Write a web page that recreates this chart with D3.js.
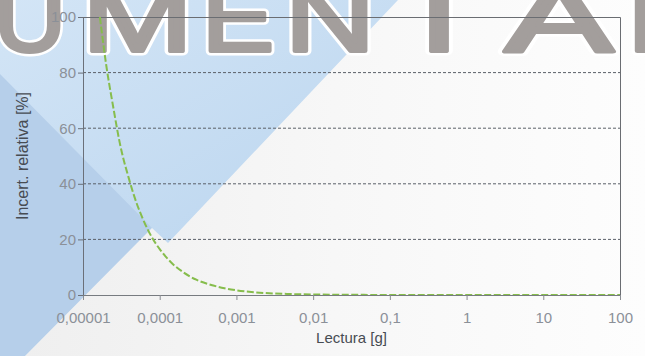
<!DOCTYPE html>
<html><head><meta charset="utf-8">
<script src="https://cdn.jsdelivr.net/npm/d3@7"></script>
<style>html,body{margin:0;padding:0;background:#fff;} svg{display:block;}</style>
</head><body><svg id="c" width="645" height="356"></svg>
<script>
// Data
const readings = [1.66e-5, 2e-5, 2.5e-5, 3e-5, 4e-5, 5e-5, 6e-5, 8e-5, 1e-4, 1.5e-4, 2e-4, 3e-4, 5e-4, 7e-4, 1e-3, 2e-3, 5e-3, 1e-2, 3e-2, 0.1, 1, 10, 100];
const uncertainty = [100, 83, 67, 55, 41.5, 33, 27.5, 20.5, 16.5, 11, 8.3, 5.5, 3.4, 2.4, 1.7, 0.85, 0.35, 0.18, 0.07, 0.03, 0.01, 0.01, 0.01];
const xTickValues = [1e-5, 1e-4, 1e-3, 1e-2, 1e-1, 1, 10, 100];
const xTickLabels = ["0,00001", "0,0001", "0,001", "0,01", "0,1", "1", "10", "100"];
const yTickValues = [0, 20, 40, 60, 80, 100];
const yTickLabels = ["0", "20", "40", "60", "80", "100"];
const xTitle = "Lectura [g]";
const yTitle = "Incert. relativa [%]";
const watermark = ["U", "M", "E", "N", "T", "A", "L"];

const W = 645, H = 356;
const M = {left: 83, right: 25, top: 17, bottom: 61};
const svg = d3.select("#c");
const defs = svg.append("defs");

// ---- background decoration ----
const gBlue = defs.append("linearGradient").attr("id", "gb").attr("x1", "0").attr("y1", "0").attr("x2", "1").attr("y2", "1");
gBlue.append("stop").attr("offset", "0").attr("stop-color", "#d3e5f6");
gBlue.append("stop").attr("offset", "0.6").attr("stop-color", "#bcd6ef");
const gWhite = defs.append("linearGradient").attr("id", "gw").attr("x1", "0").attr("y1", "0").attr("x2", "1").attr("y2", "0");
gWhite.append("stop").attr("offset", "0").attr("stop-color", "#efefef");
gWhite.append("stop").attr("offset", "0.5").attr("stop-color", "#f7f7f7");
gWhite.append("stop").attr("offset", "1").attr("stop-color", "#fdfdfd");

svg.append("rect").attr("width", W).attr("height", H).attr("fill", "url(#gb)");
svg.append("polygon").attr("points", "0,74 152,228 25,356 0,356").attr("fill", "#b6cfea");
svg.append("polygon").attr("points", "398,0 645,0 645,356 25,356 152,228 168,243").attr("fill", "url(#gw)");

// watermark letters
const wmBoxes = [[-8, 68], [80, 195], [200, 276], [283, 377], [392, 486], [503, 615], [625, 700]];
const wm = svg.append("g").attr("font-family", "Liberation Sans, Arial, sans-serif").attr("font-size", 96);
[["#ffffff", 9], ["#a39e9c", 4]].forEach(([col, sw]) => {
  watermark.forEach((ch, i) => {
    const [a, b] = wmBoxes[i];
    wm.append("text").attr("x", a + 2).attr("y", 51).attr("textLength", b - a - 4).attr("lengthAdjust", "spacingAndGlyphs")
      .attr("fill", col).attr("stroke", col).attr("stroke-width", sw).attr("stroke-linejoin", "round").text(ch);
  });
});

// ---- chart ----
const x = d3.scaleLog().domain([1e-5, 100]).range([M.left, W - M.right]);
const y = d3.scaleLinear().domain([0, 100]).range([H - M.bottom, M.top]);

// grid
svg.append("g").selectAll("line").data(yTickValues.filter(v => v > 0 && v < 100)).join("line")
  .attr("x1", x(1e-5)).attr("x2", x(100)).attr("y1", d => y(d)).attr("y2", d => y(d))
  .attr("stroke", "#5b6068").attr("stroke-width", 1).attr("stroke-dasharray", "3,2");

// frame top/right
svg.append("path").attr("d", `M${x(1e-5)},${y(100) + 0.5}H${x(100) + 0.5}V${y(0)}`)
  .attr("fill", "none").attr("stroke", "#6a6d72").attr("stroke-width", 1);

// curve
defs.append("clipPath").attr("id", "cp").append("rect")
  .attr("x", x(1e-5)).attr("y", y(100)).attr("width", x(100) - x(1e-5)).attr("height", y(0) - y(100) + 2);
const pts = readings.map((r, i) => [r, uncertainty[i]]);
svg.append("path").datum(pts).attr("clip-path", "url(#cp)")
  .attr("d", d3.line().x(d => x(d[0])).y(d => y(d[1])).curve(d3.curveMonotoneX))
  .attr("fill", "none").attr("stroke", "#86bd4c").attr("stroke-width", 2).attr("stroke-dasharray", "7,2.5");

const tickFont = "Liberation Sans, Arial, sans-serif";
// x axis
const xa = svg.append("g").attr("transform", `translate(0,${y(0)})`)
  .call(d3.axisBottom(x).tickValues(xTickValues).tickFormat((d, i) => xTickLabels[i]).tickSize(5).tickPadding(12).tickSizeOuter(0));
xa.select(".domain").attr("stroke", "#777b80");
xa.selectAll(".tick line").attr("stroke", "#8a8d92");
xa.selectAll("text").attr("fill", "#8b9098").attr("font-size", 15).attr("font-family", tickFont);

// y axis
const ya = svg.append("g").attr("transform", `translate(${x(1e-5)},0)`)
  .call(d3.axisLeft(y).tickValues(yTickValues).tickFormat((d, i) => yTickLabels[i]).tickSize(5).tickPadding(2).tickSizeOuter(0));
ya.select(".domain").attr("stroke", "#6b7079");
ya.selectAll(".tick line").attr("stroke", "#6b7079");
ya.selectAll("text").attr("fill", "#8b9098").attr("font-size", 15).attr("font-family", tickFont);

// titles
svg.append("text").attr("x", (x(1e-5) + x(100)) / 2).attr("y", 343).attr("text-anchor", "middle")
  .attr("font-family", tickFont).attr("font-size", 15).attr("fill", "#474c53").text(xTitle);
svg.append("text").attr("transform", `translate(27.5,${(y(0) + y(100)) / 2}) rotate(-90)`).attr("text-anchor", "middle")
  .attr("font-family", tickFont).attr("font-size", 16).attr("fill", "#474c53").text(yTitle);
</script></body></html>
